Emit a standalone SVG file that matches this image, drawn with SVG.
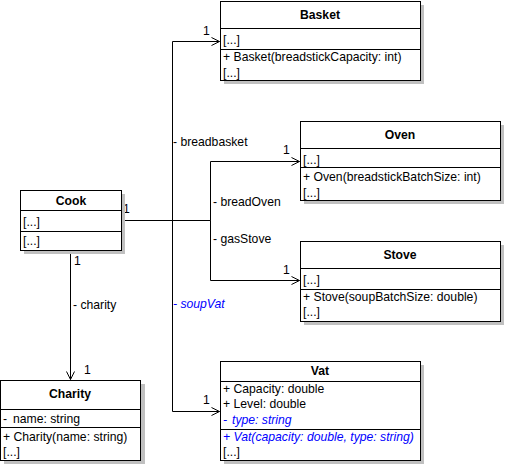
<svg xmlns="http://www.w3.org/2000/svg" width="505" height="465" viewBox="0 0 505 465">
<style>
text{font-family:"Liberation Sans",Arial,sans-serif;font-size:12.2px;fill:#000}
.t{font-weight:bold;text-anchor:middle}
.i{font-style:italic;fill:#0000ff}
.box{fill:#fff;stroke:#000;stroke-width:1}
.sh{fill:#c0c0c0}
.ln{stroke:#000;stroke-width:1;fill:none}
</style>
<defs>
<marker id="arr" markerWidth="10" markerHeight="10" refX="9" refY="5" orient="auto" markerUnits="userSpaceOnUse">
<path d="M1,1 L9,5 L1,9" fill="none" stroke="#000" stroke-width="1"/>
</marker>
</defs>
<rect width="505" height="465" fill="#fff"/>
<g id="connectors">
<polyline class="ln" points="121.5,220.5 172.5,220.5 172.5,41.5 219.5,41.5" marker-end="url(#arr)"/>
<polyline class="ln" points="121.5,220.5 172.5,220.5 172.5,411.5 219.5,411.5" marker-end="url(#arr)"/>
<polyline class="ln" points="121.5,220.5 210.5,220.5 210.5,161.5 299.5,161.5" marker-end="url(#arr)"/>
<polyline class="ln" points="121.5,220.5 210.5,220.5 210.5,280.5 299.5,280.5" marker-end="url(#arr)"/>
<polyline class="ln" points="70.5,250.5 70.5,379.5" marker-end="url(#arr)"/>
<text x="203" y="35">1</text>
<text x="173" y="146">- breadbasket</text>
<text x="123" y="213">1</text>
<text x="213" y="206">- breadOven</text>
<text x="213" y="243">- gasStove</text>
<text x="283" y="154">1</text>
<text x="283" y="274">1</text>
<text x="173" y="308" class="i">- soupVat</text>
<text x="73" y="309">- charity</text>
<text x="74" y="265">1</text>
<text x="84" y="374">1</text>
<text x="203" y="404">1</text>
</g>
<g id="Basket">
<rect class="sh" x="224" y="5" width="200" height="79"/>
<rect class="box" x="220.5" y="1.5" width="200" height="79"/>
<line class="ln" x1="220.5" y1="28.5" x2="420.5" y2="28.5"/>
<line class="ln" x1="220.5" y1="49.5" x2="420.5" y2="49.5"/>
<text class="t" x="320" y="19">Basket</text>
<text x="223" y="44">[...]</text>
<text x="223" y="61">+ Basket(breadstickCapacity: int)</text>
<text x="223" y="77">[...]</text>
</g>
<g id="Oven">
<rect class="sh" x="304" y="125" width="200" height="79"/>
<rect class="box" x="300.5" y="121.5" width="200" height="79"/>
<line class="ln" x1="300.5" y1="148.5" x2="500.5" y2="148.5"/>
<line class="ln" x1="300.5" y1="167.5" x2="500.5" y2="167.5"/>
<text class="t" x="400" y="139">Oven</text>
<text x="303" y="164">[...]</text>
<text x="303" y="181">+ Oven(breadstickBatchSize: int)</text>
<text x="303" y="197">[...]</text>
</g>
<g id="Stove">
<rect class="sh" x="304" y="245" width="200" height="80"/>
<rect class="box" x="300.5" y="241.5" width="200" height="80"/>
<line class="ln" x1="300.5" y1="268.5" x2="500.5" y2="268.5"/>
<line class="ln" x1="300.5" y1="289.5" x2="500.5" y2="289.5"/>
<text class="t" x="400" y="259">Stove</text>
<text x="303" y="284">[...]</text>
<text x="303" y="301">+ Stove(soupBatchSize: double)</text>
<text x="303" y="316">[...]</text>
</g>
<g id="Cook">
<rect class="sh" x="24" y="194" width="101" height="60"/>
<rect class="box" x="20.5" y="190.5" width="101" height="60"/>
<line class="ln" x1="20.5" y1="210.5" x2="121.5" y2="210.5"/>
<line class="ln" x1="20.5" y1="231.5" x2="121.5" y2="231.5"/>
<text class="t" x="71" y="205">Cook</text>
<text x="23" y="226">[...]</text>
<text x="23" y="245">[...]</text>
</g>
<g id="Charity">
<rect class="sh" x="4" y="384" width="141" height="80"/>
<rect class="box" x="0.5" y="380.5" width="140" height="80"/>
<line class="ln" x1="0.5" y1="409.5" x2="140.5" y2="409.5"/>
<line class="ln" x1="0.5" y1="427.5" x2="140.5" y2="427.5"/>
<text class="t" x="70" y="398">Charity</text>
<text x="3" y="423">-</text>
<text x="13" y="423">name: string</text>
<text x="3" y="441">+ Charity(name: string)</text>
<text x="3" y="456">[...]</text>
</g>
<g id="Vat">
<rect class="sh" x="224" y="365" width="200" height="99"/>
<rect class="box" x="220.5" y="361.5" width="200" height="99"/>
<line class="ln" x1="220.5" y1="381.5" x2="420.5" y2="381.5"/>
<line class="ln" x1="220.5" y1="429.5" x2="420.5" y2="429.5"/>
<text class="t" x="320" y="375">Vat</text>
<text x="223" y="393">+ Capacity: double</text>
<text x="223" y="408">+ Level: double</text>
<text x="223" y="424" class="i">-</text>
<text x="232" y="424" class="i">type: string</text>
<text x="223" y="441" class="i">+ Vat(capacity: double, type: string)</text>
<text x="223" y="456">[...]</text>
</g>
</svg>
